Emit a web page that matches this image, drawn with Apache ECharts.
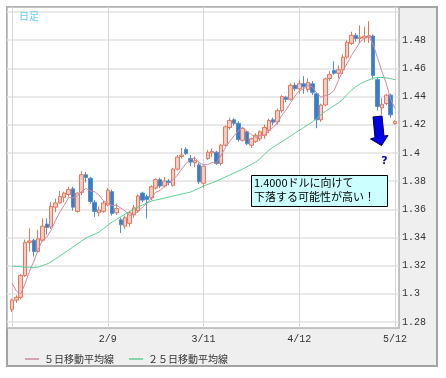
<!DOCTYPE html>
<html>
<head>
<meta charset="utf-8">
<script src="https://cdn.jsdelivr.net/npm/echarts@6/dist/echarts.min.js"></script>
<style>
  html, body { margin: 0; padding: 0; background: #fff; }
  #chart { width: 446px; height: 378px; }
</style>
</head>
<body>
<div id="chart"></div>
<script>
// 日足 EUR/USD
var dates = [
  "1/10","1/11","1/12","1/13","1/14","1/17","1/18","1/19","1/20","1/21","1/24","1/25","1/26","1/27","1/28","1/31",
  "2/1","2/2","2/3","2/4","2/7","2/8","2/9","2/10","2/11","2/14","2/15","2/16","2/17","2/18","2/21","2/22","2/23","2/24","2/25","2/28",
  "3/1","3/2","3/3","3/4","3/7","3/8","3/9","3/10","3/11","3/14","3/15","3/16","3/17","3/18","3/21","3/22","3/23","3/24","3/25","3/28","3/29","3/30","3/31",
  "4/1","4/4","4/5","4/6","4/7","4/8","4/11","4/12","4/13","4/14","4/15","4/18","4/19","4/20","4/21","4/22","4/25","4/26","4/27","4/28","4/29",
  "5/2","5/3","5/4","5/5","5/6","5/9","5/10","5/11","5/12"
];

var opens = [
  1.2890,1.2955,1.2975,1.3130,1.3365,1.3380,1.3300,1.3380,1.3495,1.3475,
  1.3615,1.3645,1.3685,1.3705,1.3745,1.3585,1.3720,1.3845,1.3820,1.3650,
  1.3575,1.3585,1.3630,1.3725,1.3575,1.3525,1.3480,1.3500,1.3560,1.3590,
  1.3715,1.3690,1.3680,1.3750,1.3810,1.3765,1.3800,1.3770,1.3885,1.3975,
  1.4025,1.3960,1.3930,1.3915,1.3785,1.3960,1.4000,1.4005,1.3925,1.4055,
  1.4180,1.4235,1.4210,1.4090,1.4150,1.4055,1.4080,1.4100,1.4125,1.4160,
  1.4235,1.4220,1.4300,1.4395,1.4380,1.4480,1.4455,1.4490,1.4450,1.4490,
  1.4420,1.4235,1.4340,1.4528,1.4585,1.4565,1.4590,1.4680,1.4777,1.4835,
  1.4812,1.4815,1.4820,1.4830,1.4520,1.4320,1.4350,1.4410,1.4208
];
var closes = [
  1.2955,1.2975,1.3130,1.3365,1.3375,1.3300,1.3390,1.3480,1.3470,1.3620,
  1.3645,1.3690,1.3715,1.3740,1.3615,1.3715,1.3845,1.3825,1.3655,1.3585,
  1.3595,1.3645,1.3735,1.3570,1.3605,1.3490,1.3540,1.3575,1.3610,1.3695,
  1.3665,1.3670,1.3760,1.3810,1.3765,1.3800,1.3790,1.3885,1.3970,1.3985,
  1.3995,1.3935,1.3945,1.3795,1.3905,1.4005,1.4010,1.3925,1.4055,1.4185,
  1.4230,1.4210,1.4095,1.4175,1.4065,1.4100,1.4125,1.4150,1.4180,1.4230,
  1.4218,1.4300,1.4400,1.4380,1.4480,1.4455,1.4490,1.4470,1.4500,1.4430,
  1.4235,1.4340,1.4525,1.4557,1.4565,1.4590,1.4680,1.4785,1.4835,1.4812,
  1.4822,1.4828,1.4832,1.4550,1.4330,1.4345,1.4410,1.4270,1.4222
];
var lows = [
  1.2870,1.2935,1.2960,1.3120,1.3300,1.3265,1.3290,1.3370,1.3420,1.3460,
  1.3580,1.3640,1.3650,1.3690,1.3590,1.3575,1.3700,1.3790,1.3640,1.3545,
  1.3550,1.3575,1.3620,1.3555,1.3560,1.3432,1.3462,1.3475,1.3540,1.3575,
  1.3650,1.3535,1.3665,1.3740,1.3750,1.3755,1.3770,1.3760,1.3875,1.3960,
  1.3985,1.3905,1.3900,1.3780,1.3750,1.3950,1.3970,1.3915,1.3910,1.4045,
  1.4165,1.4195,1.4080,1.4080,1.4055,1.4035,1.4070,1.4085,1.4100,1.4140,
  1.4195,1.4200,1.4285,1.4360,1.4370,1.4440,1.4420,1.4420,1.4430,1.4410,
  1.4175,1.4220,1.4330,1.4510,1.4555,1.4530,1.4560,1.4665,1.4765,1.4790,
  1.4780,1.4785,1.4780,1.4520,1.4300,1.4270,1.4340,1.4250,1.4200
];
var highs = [
  1.2965,1.2990,1.3140,1.3385,1.3465,1.3390,1.3455,1.3535,1.3535,1.3650,
  1.3675,1.3730,1.3725,1.3760,1.3760,1.3720,1.3870,1.3865,1.3830,1.3665,
  1.3620,1.3660,1.3750,1.3740,1.3640,1.3540,1.3555,1.3590,1.3630,1.3705,
  1.3725,1.3705,1.3770,1.3820,1.3825,1.3830,1.3815,1.3895,1.3985,1.4035,
  1.4040,1.3985,1.3975,1.3930,1.3915,1.4020,1.4030,1.4015,1.4065,1.4195,
  1.4250,1.4245,1.4225,1.4185,1.4160,1.4110,1.4140,1.4160,1.4200,1.4245,
  1.4250,1.4315,1.4410,1.4405,1.4495,1.4500,1.4520,1.4545,1.4530,1.4510,
  1.4430,1.4350,1.4535,1.4580,1.4650,1.4620,1.4700,1.4800,1.4860,1.4850,
  1.4905,1.4895,1.4935,1.4840,1.4540,1.4390,1.4420,1.4420,1.4232
];
// 5日移動平均線
var ma5 = [
  1.3075,1.3020,1.3000,1.3070,1.3160,1.3229,1.3312,1.3382,1.3403,1.3452,
  1.3521,1.3581,1.3628,1.3682,1.3681,1.3695,1.3726,1.3748,1.3731,1.3725,
  1.3701,1.3661,1.3643,1.3626,1.3630,1.3609,1.3588,1.3556,1.3564,1.3582,
  1.3617,1.3643,1.3680,1.3720,1.3734,1.3761,1.3785,1.3810,1.3842,1.3886,
  1.3925,1.3954,1.3966,1.3931,1.3915,1.3917,1.3932,1.3928,1.3980,1.4036,
  1.4081,1.4121,1.4155,1.4179,1.4155,1.4129,1.4112,1.4123,1.4124,1.4157,
  1.4181,1.4216,1.4266,1.4306,1.4356,1.4403,1.4441,1.4455,1.4479,1.4469,
  1.4425,1.4395,1.4406,1.4417,1.4444,1.4515,1.4583,1.4635,1.4691,1.4740,
  1.4787,1.4816,1.4826,1.4769,1.4672,1.4577,1.4493,1.4381,1.4315
];
// 25日移動平均線
var ma25 = [
  1.3197,1.3195,1.3192,1.3190,1.3188,1.3186,1.3190,1.3200,1.3211,1.3228,
  1.3248,1.3268,1.3290,1.3311,1.3332,1.3354,1.3375,1.3396,1.3410,1.3424,
  1.3438,1.3462,1.3486,1.3509,1.3528,1.3547,1.3566,1.3583,1.3600,1.3616,
  1.3630,1.3644,1.3658,1.3665,1.3672,1.3679,1.3686,1.3694,1.3701,1.3708,
  1.3715,1.3722,1.3736,1.3750,1.3765,1.3777,1.3788,1.3800,1.3814,1.3829,
  1.3843,1.3857,1.3871,1.3885,1.3902,1.3918,1.3935,1.3960,1.3990,1.4020,
  1.4040,1.4060,1.4080,1.4100,1.4120,1.4140,1.4160,1.4180,1.4200,1.4220,
  1.4245,1.4270,1.4295,1.4315,1.4335,1.4355,1.4380,1.4415,1.4445,1.4470,
  1.4490,1.4505,1.4518,1.4530,1.4535,1.4535,1.4532,1.4527,1.4520
];

var yMin = 1.28, yMax = 1.50, yStep = 0.02;

var candles = dates.map(function (d, i) {
  return [opens[i], closes[i], lows[i], highs[i]];
});

var chart = echarts.init(document.getElementById("chart"));

var monoFont = "Liberation Mono";
var jpFont = "Noto Sans CJK JP";

var option = {
  animation: false,
  backgroundColor: "#fff",
  grid: [
    // horizontal lines + price labels (full plot width)
    { left: 7, width: 392, top: 12, height: 310 },
    // vertical lines + date labels (full plot height)
    { left: 12, width: 383, top: 7, height: 321 },
    // candles and averages
    { left: 12, width: 383, top: 12, height: 310 }
  ],
  xAxis: [
    { gridIndex: 0, type: "value", min: 0, max: 1, show: false },
    {
      gridIndex: 1, type: "category", data: dates, boundaryGap: false,
      axisLine: { show: false }, axisTick: { show: false },
      splitLine: { show: true, interval: 21, lineStyle: { color: "#d6d6d6", width: 1 } },
      axisLabel: {
        interval: 21, margin: 6, color: "#333", fontFamily: monoFont, fontSize: 10,
        formatter: function (v, idx) { return idx === 0 ? "" : v; }
      }
    },
    { gridIndex: 2, type: "category", data: dates, boundaryGap: false, show: false }
  ],
  yAxis: [
    {
      gridIndex: 0, type: "value", position: "right", min: yMin, max: yMax, interval: yStep,
      axisLine: { show: false }, axisTick: { show: false },
      splitLine: { lineStyle: { color: "#e2e2e2", width: 1.5 } },
      axisLabel: { margin: 3, color: "#333", fontFamily: monoFont, fontSize: 10, showMaxLabel: false }
    },
    { gridIndex: 1, type: "value", min: 0, max: 1, show: false },
    { gridIndex: 2, type: "value", min: yMin, max: yMax, show: false }
  ],
  legend: {
    left: 20, top: 349, itemWidth: 14, itemHeight: 1.5, itemGap: 15,
    icon: "rect",
    textStyle: { color: "#333", fontFamily: jpFont, fontSize: 10 },
    data: ["５日移動平均線", "２５日移動平均線"]
  },
  series: [
    {
      type: "candlestick", xAxisIndex: 2, yAxisIndex: 2, data: candles,
      barWidth: 4, clip: false,
      itemStyle: {
        color: "#f7cbbf", borderColor: "#e2775d",
        color0: "#3b7dc4", borderColor0: "#4f8fd0", borderWidth: 1
      }
    },
    {
      name: "５日移動平均線", type: "line", xAxisIndex: 2, yAxisIndex: 2, data: ma5,
      symbol: "none", lineStyle: { color: "#cf8aa3", width: 1 }, itemStyle: { color: "#cf8aa3" }, z: 3
    },
    {
      name: "２５日移動平均線", type: "line", xAxisIndex: 2, yAxisIndex: 2, data: ma25,
      symbol: "none", lineStyle: { color: "#5fcf94", width: 1 }, itemStyle: { color: "#5fcf94" }, z: 3
    }
  ],
  graphic: [
    // outer frame and plot area
    { type: "rect", z: -20, shape: { x: 7, y: 7, width: 430, height: 359 },
      style: { fill: "#efefef", stroke: "#a4a4a4", lineWidth: 2 } },
    { type: "rect", z: -19, shape: { x: 7, y: 7, width: 392, height: 321 },
      style: { fill: "#fff", stroke: "#b2b2b2", lineWidth: 1.5 } },
    { type: "text", z: 50, style: { x: 19, y: 16, text: "日足", fill: "#66ccee",
      font: "10px " + jpFont, verticalAlign: "middle" } },
    // comment box
    { type: "rect", z: 50, shape: { x: 251.5, y: 175.5, width: 136, height: 31 },
      style: { fill: "#ccffff", stroke: "#000", lineWidth: 1 } },
    { type: "text", z: 51, style: { x: 254, y: 183, text: "1.4000ドルに向けて", fill: "#000",
      font: "11px " + jpFont, verticalAlign: "middle" } },
    { type: "text", z: 51, style: { x: 254, y: 197, text: "下落する可能性が高い！", fill: "#000",
      font: "11px " + jpFont, verticalAlign: "middle" } },
    // arrow
    { type: "polygon", z: 50, shape: { points: [[373, 117], [382, 116], [384, 136], [388, 135.5], [381.5, 145.5], [370.5, 139], [375, 137.5]] },
      style: { fill: "#0000e6", stroke: "#00005a", lineWidth: 1 } },
    { type: "text", z: 50, style: { x: 384.5, y: 161, text: "?", fill: "#0000cc",
      font: "bold 11px DejaVu Sans", align: "center", verticalAlign: "middle" } }
  ]
};

chart.setOption(option);
</script>
</body>
</html>
